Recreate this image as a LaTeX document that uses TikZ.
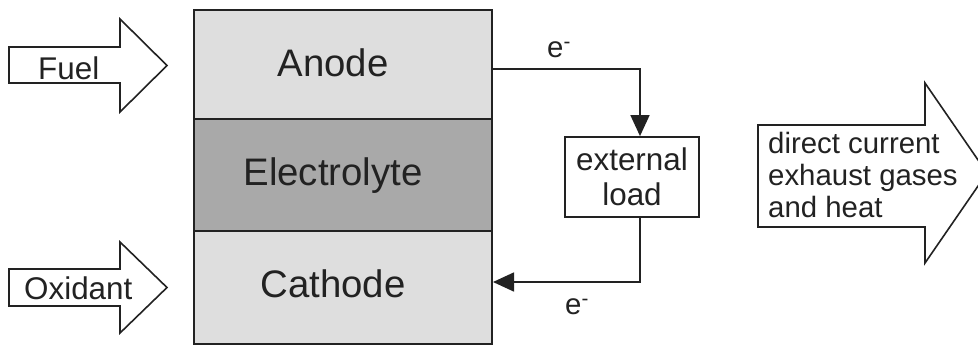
\documentclass[tikz,border=0pt]{standalone}
\usepackage{fontspec}
\setmainfont{Liberation Sans}
\usetikzlibrary{arrows.meta}
\definecolor{lightcell}{HTML}{DEDEDE}
\definecolor{darkcell}{HTML}{A9A9A9}
\definecolor{ink}{HTML}{222222}
\tikzset{
  cell/.style={draw=ink, line width=2bp, inner sep=0pt, minimum width=298bp, anchor=north west},
  bigtxt/.style={font=\fontsize{38.5}{46}\selectfont, text=ink, inner sep=0pt},
  midtxt/.style={font=\fontsize{31.5}{35}\selectfont, text=ink, inner sep=0pt},
  smalltxt/.style={font=\fontsize{29.5}{32}\selectfont, text=ink, inner sep=0pt},
  blockarrow/.style={draw=ink, line width=1.6bp, fill=white, line join=miter},
  wire/.style={draw=ink, line width=1.6bp},
  tip/.style={-{Triangle[length=21bp,width=19bp]}},
  loadbox/.style={draw=ink, line width=1.8bp, inner sep=0pt, minimum width=134bp, minimum height=80bp, align=center, font=\fontsize{31.5}{35}\selectfont, text=ink}
}
\begin{document}
\begin{tikzpicture}[x=1bp,y=-1bp]
\useasboundingbox (0,0) rectangle (978,345);
\fill[white] (0,0) rectangle (978,345);

% fuel cell stack
\node[cell, fill=lightcell, minimum height=109bp] (anode) at (193,9) {};
\node[cell, fill=darkcell, minimum height=112bp] (electrolyte) at (193,118) {};
\node[cell, fill=lightcell, minimum height=113bp] (cathode) at (193,230) {};
\node[bigtxt, anchor=base] (tanode) at (333,76) {Anode};
\node[bigtxt, anchor=base] (telectrolyte) at (333,185) {Electrolyte};
\node[bigtxt, anchor=base] (tcathode) at (333,297) {Cathode};

% input arrows
\draw[blockarrow] (9,47) -- (120,47) -- (120,19) -- (167,65.5) -- (120,112) -- (120,83) -- (9,83) -- cycle;
\node[midtxt, anchor=base west] (fuel) at (38,79) {Fuel};
\draw[blockarrow] (9,269) -- (120,269) -- (120,242) -- (167,287.5) -- (120,333) -- (120,306) -- (9,306) -- cycle;
\node[midtxt, anchor=base west] (oxidant) at (24,299) {Oxidant};

% output arrow
\draw[blockarrow] (758,125) -- (925,125) -- (925,83) -- (987,173) -- (925,263) -- (925,227) -- (758,227) -- cycle;
\node[smalltxt, anchor=north west, align=left] (output) at (768,132) {direct current\\exhaust gases\\and heat};

% external load circuit
\node[loadbox] (load) at (632,177) {external\\load};
\coordinate (ca) at (640,69);
\coordinate (cb) at (640,282);
\draw[wire, tip] (ca -| anode.east) -- (ca) -- (ca |- load.north);
\draw[wire, tip] (cb |- load.south) -- (cb) -- (cb -| cathode.east);
\node[smalltxt, anchor=base west] (etop) at (547,57) {e\textsuperscript{-}};
\node[smalltxt, anchor=base west] (ebot) at (565,314) {e\textsuperscript{-}};
\end{tikzpicture}
\end{document}
